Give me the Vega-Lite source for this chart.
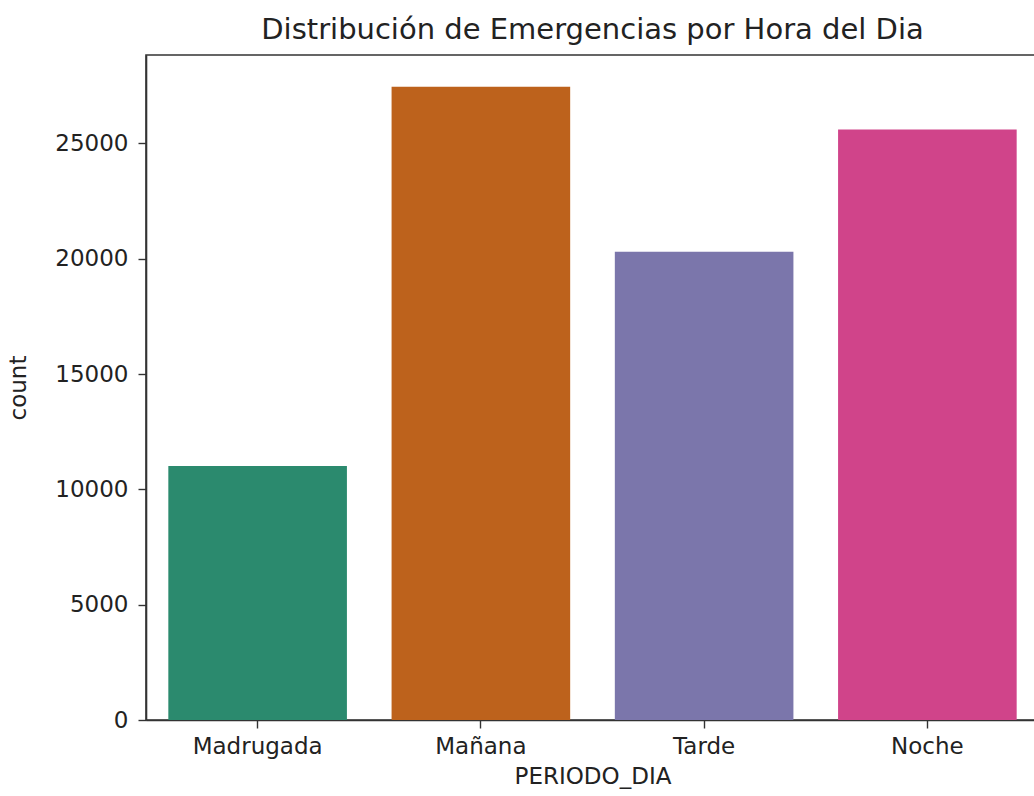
{
  "$schema": "https://vega.github.io/schema/vega-lite/v6.json",
  "autosize": "none",
  "width": 893,
  "height": 665,
  "padding": {"left": 146, "top": 55, "right": 0, "bottom": 76},
  "background": "white",
  "title": {"text": "Distribución de Emergencias por Hora del Dia", "font": "DejaVu Sans", "fontSize": 29, "fontWeight": "normal", "color": "#222", "offset": 10},
  "config": {
    "view": {"stroke": "#333", "strokeWidth": 1.6},
    "axis": {"labelFont": "DejaVu Sans", "titleFont": "DejaVu Sans", "labelFontSize": 23, "titleFontSize": 23, "titleFontWeight": "normal", "labelColor": "#222", "titleColor": "#222", "domainColor": "#333", "domainWidth": 1.6, "tickColor": "#333", "tickWidth": 1.4, "tickSize": 8, "labelPadding": 7, "grid": false}
  },
  "data": {"values": [
    {"PERIODO_DIA": "Madrugada", "count": 11010},
    {"PERIODO_DIA": "Mañana", "count": 27450},
    {"PERIODO_DIA": "Tarde", "count": 20300},
    {"PERIODO_DIA": "Noche", "count": 25600}
  ]},
  "mark": {"type": "bar"},
  "encoding": {
    "x": {"field": "PERIODO_DIA", "type": "nominal", "sort": null, "title": "PERIODO_DIA",
          "scale": {"paddingInner": 0.2, "paddingOuter": 0.1},
          "axis": {"labelAngle": 0, "titleY": 45}},
    "y": {"field": "count", "type": "quantitative", "title": "count",
          "scale": {"domain": [0, 28830], "nice": false},
          "axis": {"values": [0, 5000, 10000, 15000, 20000, 25000], "format": "d", "labelPadding": 10, "titleX": -116}},
    "color": {"field": "PERIODO_DIA", "type": "nominal", "sort": null, "legend": null,
              "scale": {"domain": ["Madrugada", "Mañana", "Tarde", "Noche"], "range": ["#2b8a6e", "#bd621c", "#7b76ab", "#d0448a"]}}
  }
}
